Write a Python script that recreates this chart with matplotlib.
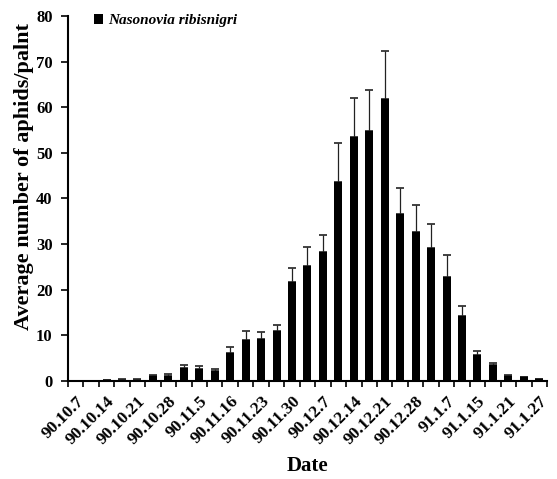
import numpy as np
import matplotlib
matplotlib.use('Agg')
import matplotlib.pyplot as plt
from matplotlib.patches import Patch

SERIF = 'Liberation Serif'

dates = ['90.10.7', '90.10.14', '90.10.21', '90.10.28', '90.11.5', '90.11.16',
         '90.11.23', '90.11.30', '90.12.7', '90.12.14', '90.12.21', '90.12.28',
         '91.1.7', '91.1.15', '91.1.21', '91.1.27']

# mean aphids per plant, one value per sampling (31 samplings)
means = [0, 0, 0.2, 0.3, 0.3, 1.2, 1.0, 2.9, 2.7, 2.3, 6.2, 8.9, 9.3, 10.9,
         21.7, 25.3, 28.3, 43.6, 53.4, 54.8, 61.8, 36.5, 32.6, 29.1, 22.9,
         14.2, 5.7, 3.4, 1.2, 0.8, 0.35]
errs = [0, 0, 0.1, 0.1, 0.1, 0.1, 0.6, 0.5, 0.6, 0.4, 1.3, 2.0, 1.4, 1.4,
        3.0, 4.1, 3.8, 8.6, 8.7, 8.9, 10.6, 5.8, 6.0, 5.3, 4.8,
        2.2, 0.9, 0.5, 0.2, 0.1, 0.1]

x = np.arange(len(means))

fig = plt.figure(figsize=(5.57, 4.79), dpi=100)
ax = fig.add_axes([0.122, 0.2046, 0.86, 0.762])

ax.bar(x, means, width=0.52, color='black', zorder=2)
ax.errorbar(x, means, yerr=[np.zeros(len(errs)), errs], fmt='none',
            ecolor='#222222', elinewidth=0.9, capsize=3, capthick=1.2, zorder=1)

ax.set_xlim(-0.5, len(means) - 0.5)
ax.set_ylim(0, 80)
ax.set_yticks(np.arange(0, 81, 10))

# boundary ticks between bars, labels on every other bar
ax.set_xticks(np.arange(-0.5, len(means)), minor=True)
ax.set_xticks(x[::2])
ax.set_xticklabels(dates, rotation=45, ha='right', va='top',
                   rotation_mode='anchor', fontsize=12.5, fontweight='bold',
                   family=SERIF)
ax.tick_params(axis='x', which='major', length=0, pad=9)
ax.tick_params(axis='x', which='minor', length=4, width=1.2, direction='out')
ax.tick_params(axis='y', length=5, width=1.2, direction='out', pad=6)
for lab in ax.get_yticklabels():
    lab.set_fontfamily(SERIF)
    lab.set_fontweight('bold')
    lab.set_fontsize(12)

for s in ['top', 'right']:
    ax.spines[s].set_visible(False)
for s in ['left', 'bottom']:
    ax.spines[s].set_linewidth(1.5)

ax.set_xlabel('Date', family=SERIF, fontweight='bold', fontsize=15, labelpad=6)
ax.set_ylabel('Average number of aphids/palnt', family=SERIF,
              fontweight='bold', fontsize=16)
ax.yaxis.set_label_coords(-0.07, 0.56)

h = Patch(facecolor='black', label='Nasonovia ribisnigri')
ax.legend(handles=[h], loc='upper left', bbox_to_anchor=(0.055, 1.005),
          frameon=False, handlelength=0.6, handleheight=0.6, handletextpad=0.3,
          borderpad=0, borderaxespad=0,
          prop={'family': SERIF, 'weight': 'bold', 'style': 'italic', 'size': 11})

fig.savefig('out.png', dpi=100)
